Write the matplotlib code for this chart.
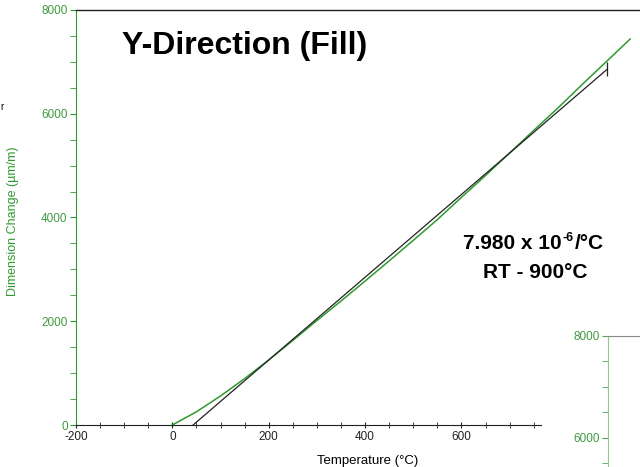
import matplotlib.pyplot as plt
import numpy as np
from matplotlib.lines import Line2D
from matplotlib.ticker import MultipleLocator

plt.rcParams['font.family'] = ['Liberation Sans', 'DejaVu Sans']
plt.rcParams['axes.unicode_minus'] = False

# measured expansion curve (green)
temp = [0, 50, 100, 150, 200, 250, 300, 350, 400, 450, 500, 550,
        600, 650, 700, 750, 800, 850, 900, 950]
dl = [0, 255, 560, 895, 1255, 1630, 2015, 2390, 2775, 3165, 3560, 3960,
      4390, 4810, 5245, 5680, 6110, 6560, 7000, 7440]

# CTE fit line (black), RT - 900C
fit_t = [43, 902]
fit_dl = [0, 6855]

green = '#2e9a2e'
tick_green = '#3f9a3f'
W, H = 640, 467

fig = plt.figure(figsize=(6.4, 4.67), dpi=100)
ax = fig.add_axes([76/W, 1-425/H, (541-76)/W, (425-10)/H])

ax.plot(temp, dl, color=green, lw=1.1, clip_on=False)
ax.plot(fit_t, fit_dl, color='#222222', lw=0.9, marker='|', markersize=10,
        markevery=[1], markeredgewidth=0.9, clip_on=False)

ax.set_xlim(-200, 765)
ax.set_ylim(0, 8000)
ax.xaxis.set_major_locator(MultipleLocator(200))
ax.xaxis.set_minor_locator(MultipleLocator(50))
ax.yaxis.set_major_locator(MultipleLocator(2000))
ax.yaxis.set_minor_locator(MultipleLocator(500))

for s in ['top', 'right']:
    ax.spines[s].set_visible(False)
ax.spines['left'].set_color(green)
ax.spines['bottom'].set_color('#222222')

ax.tick_params(axis='x', which='both', direction='inout', length=5, labelsize=8.5, colors='#222222', pad=2)
ax.tick_params(axis='y', which='both', direction='out', length=4, labelsize=8.5, color=green, labelcolor=tick_green, pad=2)

ax.set_xlabel('Temperature (°C)', fontsize=9.5)
ax.xaxis.set_label_coords((368-76)/465, -(455-425)/415, transform=ax.transAxes)
ax.set_ylabel('Dimension Change (µm/m)', fontsize=9, color=green)
ax.yaxis.set_label_coords(-(76-19)/465, 0.49, transform=ax.transAxes)

fig.text(122/W, 1-46/H, 'Y-Direction (Fill)', fontsize=23, fontweight='bold', va='center')

# CTE annotation, built in pieces so the superscript keeps a plain hyphen
renderer = fig.canvas.get_renderer()
pieces = [('7.980 x 10', 15, 0), ('-6', 9, 6), ('/°C', 15, 0)]
x = 463
for txt, size, rise in pieces:
    t = fig.text(x/W, 1-(244+rise*-1)/H, txt, fontsize=size, fontweight='bold',
                 ha='left', va='center')
    bb = t.get_window_extent(renderer)
    x = bb.x1 + 1
fig.text(535/W, 1-273/H, 'RT - 900°C', fontsize=15, fontweight='bold', ha='center', va='center')

# top border runs to the right edge of the screenshot
fig.add_artist(Line2D([76/W, 1], [1-10/H, 1-10/H], color='#222222', lw=1.0))

# fragment of the neighbouring chart at the bottom right
ax2 = fig.add_axes([608/W, 0, 32/W, (H-336)/H])
ax2.set_ylim(5431, 8000)
ax2.set_xticks([])
ax2.yaxis.set_major_locator(MultipleLocator(2000))
ax2.yaxis.set_minor_locator(MultipleLocator(500))
for s in ['right', 'bottom']:
    ax2.spines[s].set_visible(False)
ax2.spines['left'].set_color('#8fcc8f')
ax2.spines['top'].set_color('#888888')
ax2.tick_params(axis='y', which='both', direction='out', length=4, labelsize=8.5, color='#5aa05a', labelcolor=tick_green, pad=2)
ax2.patch.set_alpha(0)

fig.text(0.0, 1-107/H, 'r', fontsize=7, va='center')

fig.savefig('out.png', dpi=100)
